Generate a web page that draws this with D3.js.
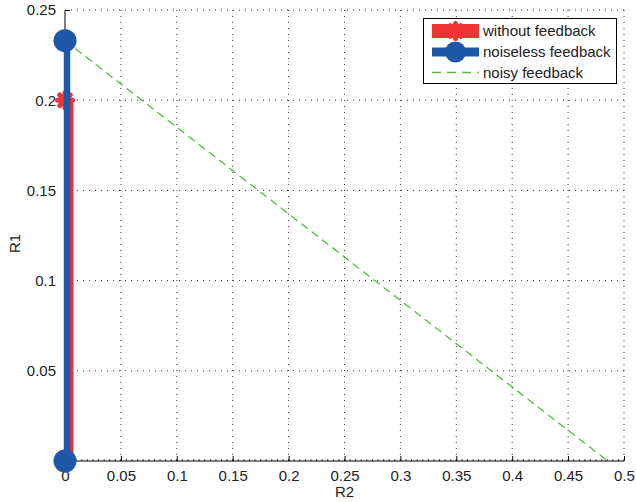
<!DOCTYPE html>
<html>
<head>
  <script src="https://d3js.org/d3.v7.min.js"></script>
  <style>
    body { margin: 0; background: #fff; }
    text { font-family: "Liberation Sans", Arial, sans-serif; }
  </style>
</head>
<body>
<svg id="chart"></svg>
<script>

  var width = 636;
  var height = 502;

  // data
  var withoutR2 = [0, 0];
  var withoutR1 = [0, 0.2];
  var noiselessR2 = [0, 0];
  var noiselessR1 = [0, 0.233];
  var noisyR2 = [0, 0.4855];
  var noisyR1 = [0.233, 0];

  var xTicks = [0, 0.05, 0.1, 0.15, 0.2, 0.25, 0.3, 0.35, 0.4, 0.45, 0.5];
  var yTicks = [0, 0.05, 0.1, 0.15, 0.2, 0.25];
  var legendLabels = ["without feedback", "noiseless feedback", "noisy feedback"];

  var red = "#ef3232", blue = "#1f58a6", green = "#5cb848";

  var svg = d3.select("#chart")
    .attr("width", width)
    .attr("height", height);

  var x = d3.scaleLinear().domain([0, 0.5]).range([65, 624]);
  var y = d3.scaleLinear().domain([0, 0.25]).range([461, 10]);

  // grid
  svg.append("g").selectAll("line")
    .data(xTicks.slice(1)).enter().append("line")
    .attr("x1", d => x(d)).attr("x2", d => x(d))
    .attr("y1", y(0)).attr("y2", y(0.25))
    .attr("stroke", "#333").attr("stroke-width", 1)
    .attr("stroke-dasharray", "1,5");
  svg.append("g").selectAll("line")
    .data(yTicks.slice(1)).enter().append("line")
    .attr("x1", x(0)).attr("x2", x(0.5))
    .attr("y1", d => y(d)).attr("y2", d => y(d))
    .attr("stroke", "#333").attr("stroke-width", 1)
    .attr("stroke-dasharray", "1,5");

  // minor ticks on x
  svg.append("g").selectAll("line")
    .data(d3.range(0, 101).map(i => i * 0.005)).enter().append("line")
    .attr("x1", d => x(d)).attr("x2", d => x(d))
    .attr("y1", y(0)).attr("y2", y(0) - 2)
    .attr("stroke", "#000").attr("stroke-width", 0.7);

  // axes
  var xAxis = d3.axisBottom(x).tickValues(xTicks).tickSize(-5).tickPadding(9)
    .tickFormat(d => d3.format("")(d));
  var gx = svg.append("g").attr("transform", "translate(0," + y(0) + ")").call(xAxis);
  var yAxis = d3.axisLeft(y).tickValues(yTicks).tickSize(-5).tickPadding(9)
    .tickFormat(d => d === 0 ? "" : d3.format("")(d));
  var gy = svg.append("g").attr("transform", "translate(" + x(0) + ",0)").call(yAxis);
  [gx, gy].forEach(function(g) {
    g.select(".domain").attr("stroke", "#000").attr("d", null);
    g.selectAll(".tick line").attr("stroke", "#000");
    g.selectAll(".tick text").attr("font-size", 15).attr("fill", "#222")
      .attr("font-family", "'Liberation Sans', Arial, sans-serif");
  });
  svg.append("line").attr("x1", x(0)).attr("x2", x(0.5)).attr("y1", y(0)).attr("y2", y(0))
    .attr("stroke", "#000");
  svg.append("line").attr("x1", x(0)).attr("x2", x(0)).attr("y1", y(0)).attr("y2", y(0.25))
    .attr("stroke", "#000");

  // axis labels
  svg.append("text").attr("x", (x(0) + x(0.5)) / 2).attr("y", 497)
    .attr("text-anchor", "middle").attr("font-size", 15).attr("fill", "#222").text("R2");
  svg.append("text").attr("transform", "translate(20," + (y(0.125) + 8) + ") rotate(-90)")
    .attr("text-anchor", "middle").attr("font-size", 15).attr("fill", "#222").text("R1");

  var line = d3.line().x(d => x(d[0])).y(d => y(d[1]));

  function star(g, cx, cy, r, w) {
    [0, 45, 90, 135].forEach(function(a) {
      var t = a * Math.PI / 180;
      g.append("line")
        .attr("x1", cx - r * Math.cos(t)).attr("y1", cy - r * Math.sin(t))
        .attr("x2", cx + r * Math.cos(t)).attr("y2", cy + r * Math.sin(t))
        .attr("stroke", red).attr("stroke-width", w).attr("stroke-linecap", "round");
    });
  }

  // without feedback
  var redPts = withoutR2.map((d, i) => [d, withoutR1[i]]);
  svg.append("path").datum(redPts).attr("d", line)
    .attr("transform", "translate(4,0)")
    .attr("fill", "none").attr("stroke", red).attr("stroke-width", 9);
  redPts.forEach(d => star(svg, x(d[0]), y(d[1]), 7.5, 5));

  // noiseless feedback
  var bluePts = noiselessR2.map((d, i) => [d, noiselessR1[i]]);
  svg.append("path").datum(bluePts).attr("d", line)
    .attr("transform", "translate(2,0)")
    .attr("fill", "none").attr("stroke", blue).attr("stroke-width", 6.5);

  // noisy feedback
  var greenPts = noisyR2.map((d, i) => [d, noisyR1[i]]);
  svg.append("path").datum(greenPts).attr("d", line)
    .attr("fill", "none").attr("stroke", green).attr("stroke-width", 1.3)
    .attr("stroke-dasharray", "8,5");

  svg.selectAll(".bm").data(bluePts).enter().append("circle")
    .attr("cx", d => x(d[0])).attr("cy", d => y(d[1])).attr("r", 11.5)
    .attr("fill", blue);

  // legend
  var lg = svg.append("g");
  lg.append("rect").attr("x", 423.5).attr("y", 18.5).attr("width", 193).attr("height", 65)
    .attr("fill", "#fff").attr("stroke", "#000").attr("stroke-width", 1);
  var rows = [31, 52, 72.5];
  lg.append("line").attr("x1", 432).attr("x2", 479).attr("y1", rows[0]).attr("y2", rows[0])
    .attr("stroke", red).attr("stroke-width", 14);
  star(lg, 455.5, rows[0], 7.5, 5);
  lg.append("line").attr("x1", 432).attr("x2", 479).attr("y1", rows[1]).attr("y2", rows[1])
    .attr("stroke", blue).attr("stroke-width", 9);
  lg.append("circle").attr("cx", 455.5).attr("cy", rows[1]).attr("r", 10.5).attr("fill", blue);
  lg.append("line").attr("x1", 432).attr("x2", 479).attr("y1", rows[2]).attr("y2", rows[2])
    .attr("stroke", green).attr("stroke-width", 1.3).attr("stroke-dasharray", "9,6");
  lg.selectAll("text").data(legendLabels).enter().append("text")
    .attr("x", 483).attr("y", (d, i) => rows[i] + 5)
    .attr("font-size", 15).attr("fill", "#222").text(d => d);

</script>
</body>
</html>
